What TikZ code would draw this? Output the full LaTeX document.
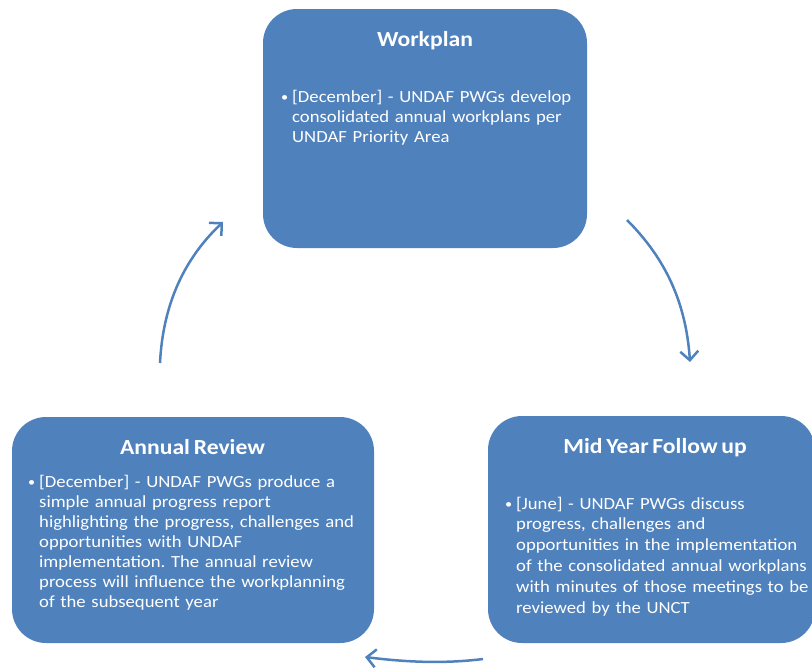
\documentclass[tikz,border=0pt]{standalone}
\usepackage{fontspec}
\setmainfont{Carlito}[FakeStretch=1.1, WordSpace=0.7]
\usepackage{tikz}
\usetikzlibrary{shapes,arrows,arrows.meta}
\definecolor{stageblue}{HTML}{4F81BD}
\frenchspacing
\newcommand{\bulletpar}[1]{\hangindent=11pt\hangafter=1\noindent\makebox[11pt][l]{\raisebox{0.5pt}{\fontsize{13}{13}\selectfont\textbullet}}#1\par}

\begin{document}
\begin{tikzpicture}[x=1pt,y=-1pt,
  stage/.style={fill=stageblue, rectangle, rounded corners=34pt, inner sep=0pt, outer sep=0pt},
  heading/.style={text=white, font=\fontsize{21.5}{26}\selectfont\bfseries, anchor=base, inner sep=0pt},
  bullets/.style={text=white, font=\fontsize{17}{20}\selectfont, text width=330pt, align=left, anchor=base west, inner sep=0pt},
  cycle/.style={draw=stageblue, line width=2.5pt, -{Straight Barb[length=9pt,width=18pt]}}
  ]
  \useasboundingbox (0,0) rectangle (812,670);

  \node[stage, minimum width=324pt, minimum height=239pt] (workplan) at (425,128.5) {};
  \node[stage, minimum width=327pt, minimum height=227pt] (midyear) at (651.5,529.5) {};
  \node[stage, minimum width=362pt, minimum height=226pt] (annual) at (193,530) {};

  \node[heading] (workplantitle) at (425,46) {Workplan};
  \node[heading] (midyeartitle) at (655,453) {Mid Year Follow up};
  \node[heading] (annualtitle) at (192.5,454) {Annual Review};

  \node[bullets] (workplantext) at (281,102) {\bulletpar{[December] - UNDAF PWGs develop\newline
    consolidated annual workplans per\newline
    UNDAF Priority Area}};
  \node[bullets, font=\fontsize{17}{20.8}\selectfont] (midyeartext) at (505,509) {\bulletpar{[June] - UNDAF PWGs discuss\newline
    progress, challenges and\newline
    opportunities in the implementation\newline
    of the consolidated annual workplans\newline
    with minutes of those meetings to be\newline
    reviewed by the UNCT}};
  \node[bullets] (annualtext) at (28,487) {\bulletpar{[December] - UNDAF PWGs produce a\newline
    simple annual progress report\newline
    highlighting the progress, challenges and\newline
    opportunities with UNDAF\newline
    implementation. The annual review\newline
    process will influence the workplanning\newline
    of the subsequent year}};

  \draw[cycle] ([shift={(-33,-54)}]annual.north) .. controls +(3,-60) and +(-38,36) .. ([shift={(-40,-26)}]workplan.south west);
  \draw[cycle] ([shift={(40,-28)}]workplan.south east) .. controls +(38,38) and +(-4,-60) .. ([shift={(38.5,-54)}]midyear.north);
  \draw[cycle] ([shift={(-5,16)}]midyear.south west) .. controls +(-40,5) and +(40,5) .. ([shift={(-9,14)}]annual.south east);
\end{tikzpicture}
\end{document}
